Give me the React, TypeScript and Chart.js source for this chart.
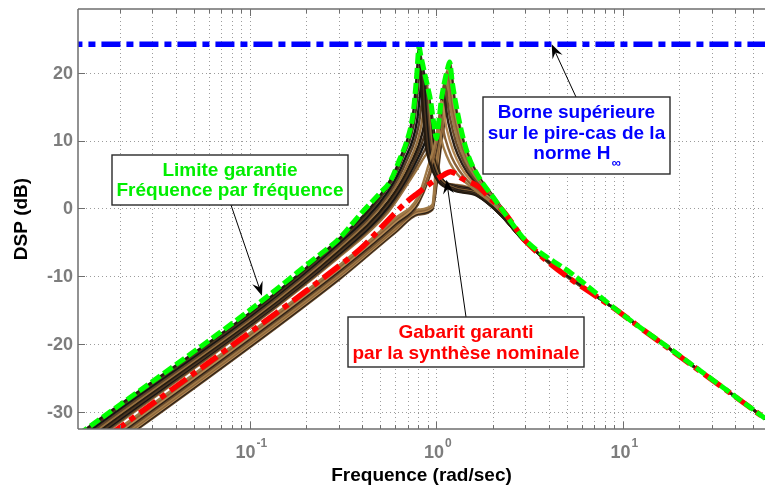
import React, { useEffect, useRef } from "react";
import { Chart, registerables } from "chart.js";

Chart.register(...registerables);

type Pt = [number, number];

// ---- axes ----
const X_RANGE: [number, number] = [0.01197, 57.8];
const Y_RANGE: [number, number] = [-32.55, 29.4];
const Y_TICKS = [-30, -20, -10, 0, 10, 20];
const X_DECADES = [-2, -1, 0, 1];
const X_LABELS: [number, string, string][] = [
  [0.1, "10", "-1"],
  [1, "10", "0"],
  [10, "10", "1"],
];
const X_TITLE = "Frequence (rad/sec)";
const Y_TITLE = "DSP (dB)";

// ---- series ----
const HINF_BOUND = 24.2;
const HINF_X = [0.01, 60];

const UPPER: Pt[] = [
  [0.012, -33.4], [0.1, -15.0], [0.22, -7.5], [0.3, -4.5], [0.39, -0.9], [0.5, 2.3],
  [0.563, 3.9], [0.637, 7.3], [0.692, 9.8], [0.75, 14.0], [0.783, 19.4], [0.807, 23.8],
  [0.825, 22.5], [0.845, 21.2], [0.865, 19.9], [0.885, 18.7], [0.905, 17.5], [0.929, 16.0],
  [0.967, 12.6], [1.0, 10.3], [1.02, 11.8], [1.04, 13.8], [1.06, 15.8], [1.08, 17.2],
  [1.1, 18.4], [1.12, 19.4], [1.15, 20.7], [1.177, 21.6], [1.215, 18.7], [1.26, 16.0],
  [1.37, 11.1], [1.49, 7.6], [1.68, 4.7], [2.07, 1.2], [2.39, -1.2], [3.0, -4.7],
  [5.3, -9.6], [10, -15.7], [18.3, -20.9], [58, -31.0],
];

const NOMINAL: Pt[] = [
  [0.012, -36.8], [0.1, -18.3], [0.2, -12.2], [0.3, -8.5], [0.39, -6.0], [0.45, -4.3],
  [0.54, -2.0], [0.69, 0.9], [0.8, 2.3], [0.93, 3.7], [1.09, 4.9], [1.19, 5.4],
  [1.27, 5.1], [1.37, 4.4], [1.68, 3.2], [1.94, 1.5], [2.28, -0.4], [3.0, -4.8],
  [10, -15.7], [58, -31.0],
];

const FAMILY_LEFT: Pt[][] = [
  [[0.012, -33.4], [0.3, -4.5], [0.55, 3.6], [0.646, 7.7], [0.75, 14.0], [0.783, 19.4], [0.807, 23.8], [0.839, 15.9], [0.888, 8.3], [1.25, 2.6], [1.6, 2.0], [2.2, -0.9], [3, -5.0], [10, -15.7], [58, -31.0]],
  [[0.012, -33.73], [0.3, -4.83], [0.55, 3.1], [0.66, 7.5], [0.767, 13.4], [0.8, 18.3], [0.825, 22.5], [0.858, 15.1], [0.908, 7.9], [1.25, 2.7], [1.6, 2.08], [2.2, -0.9], [3, -5.0], [10, -15.7], [58, -31.0]],
  [[0.012, -34.08], [0.3, -5.18], [0.55, 2.5], [0.676, 7.2], [0.786, 12.8], [0.82, 17.3], [0.845, 21.2], [0.879, 14.2], [0.93, 7.5], [1.25, 2.8], [1.6, 2.16], [2.2, -0.9], [3, -5.0], [10, -15.7], [58, -31.0]],
  [[0.012, -34.43], [0.3, -5.53], [0.55, 2.0], [0.692, 7.0], [0.804, 12.3], [0.839, 16.2], [0.865, 19.9], [0.9, 13.4], [0.952, 7.0], [1.25, 2.9], [1.6, 2.24], [2.2, -0.9], [3, -5.0], [10, -15.7], [58, -31.0]],
  [[0.012, -34.76], [0.3, -5.86], [0.55, 1.55], [0.708, 6.7], [0.823, 11.75], [0.858, 15.2], [0.885, 18.7], [0.92, 12.6], [0.974, 6.6], [1.25, 3.0], [1.6, 2.32], [2.2, -0.9], [3, -5.0], [10, -15.7], [58, -31.0]],
  [[0.012, -35.09], [0.3, -6.19], [0.55, 1.0], [0.724, 6.5], [0.842, 11.2], [0.878, 14.2], [0.905, 17.5], [0.941, 11.8], [0.996, 6.2], [1.25, 3.1], [1.6, 2.4], [2.2, -0.9], [3, -5.0], [10, -15.7], [58, -31.0]],
  [[0.012, -35.42], [0.3, -6.52], [0.55, 0.6], [0.74, 6.3], [0.86, 10.6], [0.897, 12.7], [0.925, 15.6], [0.962, 10.5], [1.018, 5.6], [1.25, 3.2], [1.6, 2.48], [2.2, -0.9], [3, -5.0], [10, -15.7], [58, -31.0]],
  [[0.012, -35.65], [0.3, -6.75], [0.55, 0.16], [0.752, 6.1], [0.874, 9.9], [0.912, 11.4], [0.94, 14.0], [0.978, 9.5], [1.034, 5.2], [1.25, 3.3], [1.6, 2.56], [2.2, -0.9], [3, -5.0], [10, -15.7], [58, -31.0]],
  [[0.012, -35.89], [0.3, -6.99], [0.55, -0.18], [0.764, 5.8], [0.888, 9.2], [0.926, 10.2], [0.955, 12.5], [0.993, 8.6], [1.05, 4.7], [1.25, 3.4], [1.6, 2.64], [2.2, -0.9], [3, -5.0], [10, -15.7], [58, -31.0]],
  [[0.012, -36.12], [0.3, -7.22], [0.55, -0.61], [0.776, 5.5], [0.902, 8.3], [0.941, 8.8], [0.97, 10.8], [1.009, 7.5], [1.067, 4.2], [1.25, 3.5], [1.6, 2.72], [2.2, -0.9], [3, -5.0], [10, -15.7], [58, -31.0]],
];

const FAMILY_RIGHT: Pt[][] = [
  [[0.012, -36.86], [0.3, -8.42], [0.6, -1.5], [0.8, 1.8], [0.918, 6.85], [0.979, 9.44], [1.02, 11.8], [1.091, 8.98], [1.183, 6.66], [1.295, 5.04], [1.459, 3.63], [2.1, 0.2], [3, -4.8], [10, -15.7], [58, -31.0]],
  [[0.012, -37.15], [0.3, -8.71], [0.6, -1.79], [0.8, 1.51], [0.936, 6.16], [0.998, 9.78], [1.04, 13.8], [1.113, 10.37], [1.206, 7.57], [1.321, 5.62], [1.487, 3.91], [2.1, 0.35], [3, -4.8], [10, -15.7], [58, -31.0]],
  [[0.012, -37.43], [0.3, -8.99], [0.6, -2.07], [0.8, 1.23], [0.954, 7.0], [1.018, 11.14], [1.06, 15.8], [1.134, 11.78], [1.23, 8.48], [1.346, 6.2], [1.516, 4.2], [2.1, 0.5], [3, -4.8], [10, -15.7], [58, -31.0]],
  [[0.012, -37.7], [0.3, -9.26], [0.6, -2.34], [0.8, 0.96], [0.972, 7.56], [1.037, 12.08], [1.08, 17.2], [1.156, 12.75], [1.253, 9.11], [1.372, 6.58], [1.544, 4.37], [2.1, 0.6], [3, -4.8], [10, -15.7], [58, -31.0]],
  [[0.012, -37.97], [0.3, -9.53], [0.6, -2.61], [0.8, 0.69], [0.99, 8.04], [1.056, 12.88], [1.1, 18.4], [1.177, 13.57], [1.276, 9.64], [1.397, 6.9], [1.573, 4.51], [2.1, 0.7], [3, -4.8], [10, -15.7], [58, -31.0]],
  [[0.012, -38.24], [0.3, -9.8], [0.6, -2.88], [0.8, -0.18], [0.95, 0.51], [1.008, 8.46], [1.075, 13.6], [1.12, 19.4], [1.198, 14.32], [1.299, 10.11], [1.422, 7.18], [1.602, 4.62], [2.1, 0.8], [3, -4.8], [10, -15.7], [58, -31.0]],
  [[0.012, -38.44], [0.3, -10.0], [0.6, -3.08], [0.8, -0.38], [0.95, 0.31], [1.022, 8.69], [1.09, 14.01], [1.135, 20.1], [1.214, 14.74], [1.317, 10.37], [1.441, 7.33], [1.623, 4.67], [2.1, 0.9], [3, -4.8], [10, -15.7], [58, -31.0]],
  [[0.012, -38.63], [0.3, -10.19], [0.6, -3.27], [0.8, -0.57], [0.95, 0.12], [1.035, 8.93], [1.104, 14.42], [1.15, 20.7], [1.231, 15.16], [1.334, 10.63], [1.461, 7.48], [1.645, 4.72], [2.1, 1.0], [3, -4.8], [10, -15.7], [58, -31.0]],
  [[0.012, -38.82], [0.3, -10.38], [0.6, -3.46], [0.8, -0.76], [0.95, -0.07], [1.049, 9.13], [1.118, 14.77], [1.165, 21.2], [1.247, 15.53], [1.351, 10.86], [1.48, 7.61], [1.666, 4.77], [2.1, 1.1], [3, -4.8], [10, -15.7], [58, -31.0]],
  [[0.012, -38.97], [0.3, -10.53], [0.6, -3.61], [0.8, -0.91], [0.95, -0.22], [1.059, 9.27], [1.13, 15.03], [1.177, 21.6], [1.259, 15.79], [1.365, 11.02], [1.495, 7.7], [1.683, 4.79], [2.1, 1.2], [3, -4.8], [10, -15.7], [58, -31.0]],
];

const FAMILY_COLORS = [
  "#231a10", "#a07a48", "#4a3520", "#8a6238", "#141414", "#b58a55",
  "#5c4228", "#2e2218", "#96703f", "#6b4c2c",
];

// ---- annotations ----
const TEXT_GREEN = ["Limite garantie", "Fréquence par fréquence"];
const TEXT_BLUE = ["Borne supérieure", "sur le pire-cas de la", "norme H"];
const TEXT_BLUE_SUB = "∞";
const TEXT_RED = ["Gabarit garanti", "par la synthèse nominale"];
const ARROW_GREEN_TIP: Pt = [0.116, -12.9];
const ARROW_BLUE_TIP: Pt = [4.15, 24.2];
const ARROW_RED_TIP: Pt = [1.133, 4.2];

const FONT = '"Liberation Sans", Arial, Helvetica, sans-serif';
const AXIS_COLOR = "#6e6e6e";
const TICK_TEXT = "#7d7d7d";

function seg(ctx: CanvasRenderingContext2D, x0: number, y0: number, x1: number, y1: number) {
  ctx.beginPath();
  ctx.moveTo(x0, y0);
  ctx.lineTo(x1, y1);
  ctx.stroke();
}

function arrow(ctx: CanvasRenderingContext2D, x0: number, y0: number, x1: number, y1: number) {
  ctx.save();
  ctx.strokeStyle = "#000";
  ctx.fillStyle = "#000";
  ctx.lineWidth = 1;
  const a = Math.atan2(y1 - y0, x1 - x0);
  const L = 14, W = 5.5, N = 9;
  const c = Math.cos(a), s = Math.sin(a);
  const bx = x1 - L * c, by = y1 - L * s;
  const nx = x1 - N * c, ny = y1 - N * s;
  seg(ctx, x0, y0, nx, ny);
  ctx.beginPath();
  ctx.moveTo(x1, y1);
  ctx.lineTo(bx + W * s, by - W * c);
  ctx.lineTo(nx, ny);
  ctx.lineTo(bx - W * s, by + W * c);
  ctx.closePath();
  ctx.fill();
  ctx.restore();
}

function textBox(
  ctx: CanvasRenderingContext2D,
  box: [number, number, number, number],
  lines: string[],
  baselines: number[],
  color: string
) {
  const [x0, y0, x1, y1] = box;
  ctx.save();
  ctx.fillStyle = "#fff";
  ctx.fillRect(x0, y0, x1 - x0, y1 - y0);
  ctx.strokeStyle = "#2a2a2a";
  ctx.lineWidth = 1.4;
  ctx.strokeRect(x0, y0, x1 - x0, y1 - y0);
  ctx.font = `bold 19px ${FONT}`;
  ctx.fillStyle = color;
  ctx.textAlign = "center";
  ctx.textBaseline = "alphabetic";
  const cx = (x0 + x1) / 2;
  lines.forEach((t, i) => {
    if (t) ctx.fillText(t, cx, baselines[i]);
  });
  ctx.restore();
}

const decor = {
  id: "decor",
  beforeDraw(chart: any) {
    const { ctx, width, height } = chart;
    ctx.save();
    ctx.fillStyle = "#fff";
    ctx.fillRect(0, 0, width, height);
    ctx.restore();
  },
  beforeDatasetsDraw(chart: any) {
    const { ctx, chartArea: a, scales } = chart;
    const x = scales.x, y = scales.y;
    ctx.save();
    ctx.strokeStyle = "#9c9c9c";
    ctx.lineWidth = 1;
    ctx.setLineDash([1, 3]);
    for (const e of X_DECADES) {
      for (let m = 1; m <= 9; m++) {
        const v = m * Math.pow(10, e);
        if (v <= X_RANGE[0] || v >= X_RANGE[1]) continue;
        const px = Math.round(x.getPixelForValue(v)) + 0.5;
        seg(ctx, px, a.top, px, a.bottom);
      }
    }
    for (const t of Y_TICKS) {
      const py = Math.round(y.getPixelForValue(t)) + 0.5;
      seg(ctx, a.left, py, a.right, py);
    }
    ctx.restore();
  },
  afterDatasetsDraw(chart: any) {
    const { ctx, chartArea: a, scales } = chart;
    const x = scales.x, y = scales.y;
    ctx.save();
    // axes box
    ctx.strokeStyle = AXIS_COLOR;
    ctx.lineWidth = 1.5;
    seg(ctx, a.left, a.top, a.right, a.top);
    seg(ctx, a.left, a.bottom, a.right, a.bottom);
    seg(ctx, a.left, a.top, a.left, a.bottom);
    // x ticks
    ctx.lineWidth = 1;
    for (const e of X_DECADES) {
      for (let m = 1; m <= 9; m++) {
        const v = m * Math.pow(10, e);
        if (v <= X_RANGE[0] || v >= X_RANGE[1]) continue;
        const px = Math.round(x.getPixelForValue(v)) + 0.5;
        const len = m === 1 ? 7 : 4;
        seg(ctx, px, a.bottom, px, a.bottom - len);
        seg(ctx, px, a.top, px, a.top + len);
      }
    }
    for (const t of Y_TICKS) {
      const py = Math.round(y.getPixelForValue(t)) + 0.5;
      seg(ctx, a.left, py, a.left + 7, py);
    }
    // y tick labels
    ctx.fillStyle = TICK_TEXT;
    ctx.font = `bold 18px ${FONT}`;
    ctx.textAlign = "right";
    ctx.textBaseline = "middle";
    for (const t of Y_TICKS) {
      ctx.fillText(String(t), a.left - 5, y.getPixelForValue(t) + 1);
    }
    // x tick labels with exponent
    ctx.textAlign = "left";
    ctx.textBaseline = "alphabetic";
    for (const [v, base, exp] of X_LABELS) {
      const px = x.getPixelForValue(v);
      ctx.font = `bold 18px ${FONT}`;
      const w1 = ctx.measureText(base).width;
      ctx.font = `bold 12px ${FONT}`;
      const w2 = ctx.measureText(exp).width;
      const start = px - (w1 + w2) / 2 + 1;
      ctx.font = `bold 18px ${FONT}`;
      ctx.fillText(base, start, a.bottom + 29);
      ctx.font = `bold 12px ${FONT}`;
      ctx.fillText(exp, start + w1 + 1, a.bottom + 18);
    }
    // axis titles
    ctx.fillStyle = "#000";
    ctx.font = `bold 19px ${FONT}`;
    ctx.textAlign = "center";
    ctx.fillText(X_TITLE, (a.left + a.right) / 2, a.bottom + 52);
    ctx.save();
    ctx.translate(27, (a.top + a.bottom) / 2);
    ctx.rotate(-Math.PI / 2);
    ctx.fillText(Y_TITLE, 0, 0);
    ctx.restore();

    // annotations
    const gTip = [x.getPixelForValue(ARROW_GREEN_TIP[0]), y.getPixelForValue(ARROW_GREEN_TIP[1])];
    const bTip = [x.getPixelForValue(ARROW_BLUE_TIP[0]), y.getPixelForValue(ARROW_BLUE_TIP[1])];
    const rTip = [x.getPixelForValue(ARROW_RED_TIP[0]), y.getPixelForValue(ARROW_RED_TIP[1])];
    arrow(ctx, 231, 205, gTip[0], gTip[1]);
    arrow(ctx, 576, 97, bTip[0], bTip[1]);
    arrow(ctx, 466, 317, rTip[0], rTip[1]);

    textBox(ctx, [112, 155, 348, 205], TEXT_GREEN, [176, 196], "#00ee00");
    textBox(ctx, [483, 97, 670, 174], [TEXT_BLUE[0], TEXT_BLUE[1], ""], [118, 138.5, 159], "#0000ff");
    textBox(ctx, [348, 317, 584, 367], TEXT_RED, [338, 359], "#ff0000");
    // third blue line with subscript
    ctx.font = `bold 19px ${FONT}`;
    const w1 = ctx.measureText(TEXT_BLUE[2]).width;
    ctx.font = `bold 13px ${FONT}`;
    const w2 = ctx.measureText(TEXT_BLUE_SUB).width;
    const cx = (483 + 670) / 2;
    const st = cx - (w1 + w2) / 2;
    ctx.fillStyle = "#0000ff";
    ctx.textAlign = "left";
    ctx.font = `bold 19px ${FONT}`;
    ctx.fillText(TEXT_BLUE[2], st, 159);
    ctx.font = `bold 13px ${FONT}`;
    ctx.fillText(TEXT_BLUE_SUB, st + w1 + 1, 167);
    ctx.restore();
  },
};

const toXY = (pts: Pt[]) => pts.map(([px, py]) => ({ x: px, y: py }));

function buildDatasets() {
  const fam: Pt[][] = [];
  for (let i = 0; i < FAMILY_LEFT.length; i++) {
    fam.push(FAMILY_LEFT[i]);
    fam.push(FAMILY_RIGHT[i]);
  }
  const family = fam.map((pts, i) => ({
    data: toXY(pts),
    borderColor: FAMILY_COLORS[i % FAMILY_COLORS.length],
    borderWidth: 2.4,
    pointRadius: 0,
    cubicInterpolationMode: "monotone" as const,
    borderJoinStyle: "round" as const,
    order: 10,
  }));
  return [
    {
      data: toXY(HINF_X.map((v) => [v, HINF_BOUND] as Pt)),
      borderColor: "#0000ff",
      borderWidth: 5.5,
      borderDash: [19, 6, 7, 6],
      pointRadius: 0,
      order: 1,
    },
    {
      data: toXY(UPPER),
      borderColor: "#00ff00",
      borderWidth: 5,
      borderDash: [11, 4],
      pointRadius: 0,
      cubicInterpolationMode: "monotone" as const,
      borderJoinStyle: "round" as const,
      order: 2,
    },
    {
      data: toXY(NOMINAL),
      borderColor: "#ff0000",
      borderWidth: 5.5,
      borderDash: [20, 6, 6, 6],
      pointRadius: 0,
      cubicInterpolationMode: "monotone" as const,
      borderJoinStyle: "round" as const,
      order: 3,
    },
    ...family,
  ];
}

export default function App() {
  const ref = useRef<HTMLCanvasElement>(null);
  useEffect(() => {
    const canvas = ref.current;
    if (!canvas) return;
    const chart = new Chart(canvas, {
      type: "line",
      data: { datasets: buildDatasets() as any },
      options: {
        animation: false,
        responsive: false,
        devicePixelRatio: 1,
        layout: { padding: { left: 78, top: 9, right: 0, bottom: 57 } },
        plugins: { legend: { display: false }, tooltip: { enabled: false } },
        events: [],
        scales: {
          x: { type: "logarithmic", min: X_RANGE[0], max: X_RANGE[1], display: false },
          y: { type: "linear", min: Y_RANGE[0], max: Y_RANGE[1], display: false },
        },
      },
      plugins: [decor],
    });
    return () => chart.destroy();
  }, []);
  return (
    <div style={{ position: "absolute", left: 0, top: 0, width: 765, height: 486, background: "#fff" }}>
      <canvas ref={ref} width={765} height={486} style={{ display: "block", width: 765, height: 486 }} />
    </div>
  );
}
